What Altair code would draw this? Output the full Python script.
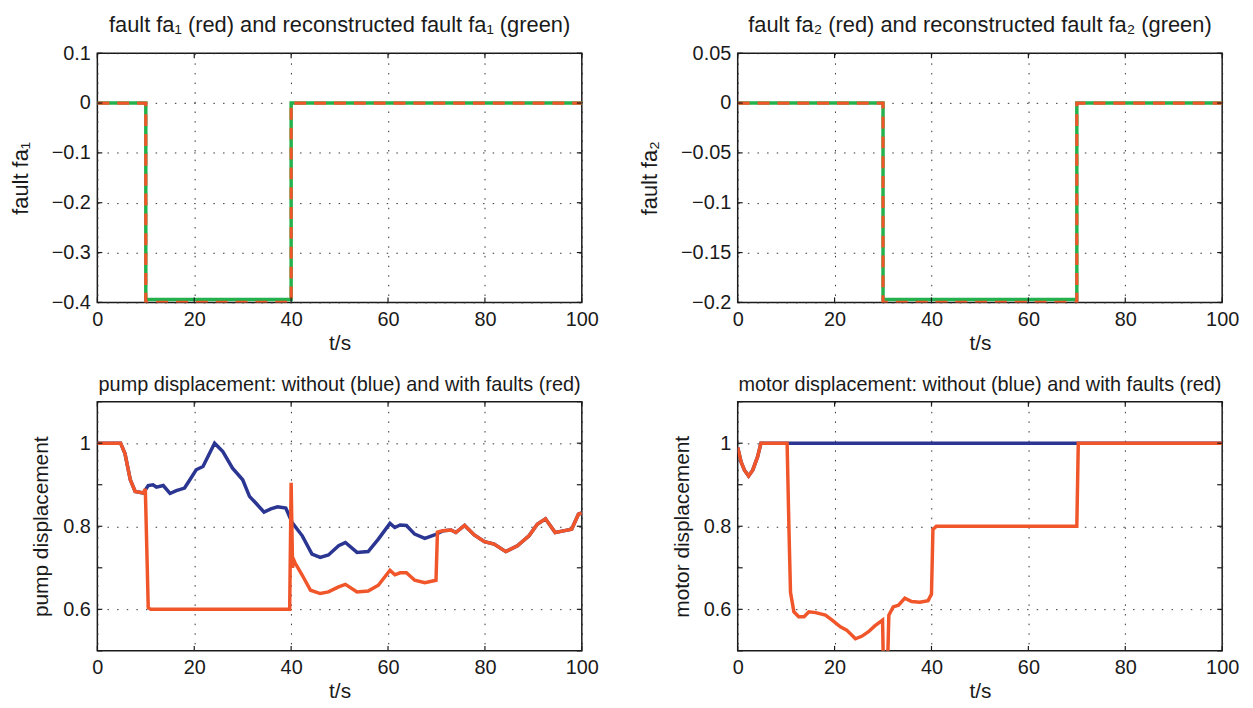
import altair as alt
import pandas as pd

# ---------------- data ----------------
fa1_t = [0, 10, 10, 40, 40, 100]
fa1_true = [0, 0, -0.4, -0.4, 0, 0]
fa1_rec = [0, 0, -0.394, -0.394, 0, 0]

fa2_t = [0, 30, 30, 70, 70, 100]
fa2_true = [0, 0, -0.2, -0.2, 0, 0]
fa2_rec = [0, 0, -0.197, -0.197, 0, 0]

pump_nom_t = [0, 4.8, 5.7, 6.8, 7.8, 9.5, 10.5, 11.5, 12.2, 13.6, 15.0, 16.3, 18.0, 19.1,
              20.4, 21.8, 24.2, 25.9, 27.9, 30.0, 31.4, 32.7, 34.4, 35.8, 37.2, 38.9, 40.2,
              42.3, 44.3, 46.0, 47.7, 49.8, 51.2, 53.6, 55.9, 58.0, 60.4, 61.4, 62.5, 63.8,
              65.5, 67.6, 69.6, 71.3, 73.0, 74.0, 75.8, 77.8, 79.9, 81.9, 84.3, 86.7, 89.1,
              90.8, 92.5, 94.5, 96.2, 97.9, 99.3, 100]
pump_nom = [1.0, 1.0, 0.975, 0.912, 0.884, 0.88, 0.898, 0.9, 0.894, 0.898, 0.879, 0.886, 0.892, 0.912,
            0.936, 0.944, 1.0, 0.98, 0.94, 0.912, 0.872, 0.856, 0.834, 0.842, 0.847, 0.844, 0.809,
            0.777, 0.733, 0.725, 0.731, 0.753, 0.761, 0.737, 0.739, 0.769, 0.807, 0.797, 0.803, 0.802,
            0.781, 0.771, 0.779, 0.789, 0.791, 0.785, 0.802, 0.779, 0.763, 0.757, 0.739, 0.753, 0.777,
            0.805, 0.818, 0.785, 0.789, 0.793, 0.829, 0.832]

pump_flt_t = [0, 4.8, 5.7, 6.8, 7.8, 9.5, 9.9, 10.2, 10.5, 11.0, 39.7, 40.0, 40.3, 40.5, 40.8,
              42.3, 44.0, 46.0, 47.7, 49.8, 51.2, 53.6, 55.9, 58.0, 60.4, 61.4, 62.5, 63.8,
              65.5, 67.6, 69.9, 70.2, 71.3, 73.0, 74.0, 75.8, 77.8, 79.9, 81.9, 84.3, 86.7,
              89.1, 90.8, 92.5, 94.5, 96.2, 97.9, 99.3, 100]
pump_flt = [1.0, 1.0, 0.975, 0.912, 0.884, 0.88, 0.89, 0.75, 0.604, 0.6, 0.6, 0.905, 0.70, 0.72, 0.712,
            0.682, 0.646, 0.638, 0.642, 0.654, 0.66, 0.642, 0.644, 0.658, 0.694, 0.683, 0.688, 0.688,
            0.670, 0.664, 0.670, 0.786, 0.789, 0.791, 0.785, 0.802, 0.779, 0.763, 0.757, 0.739, 0.753,
            0.777, 0.805, 0.818, 0.785, 0.789, 0.793, 0.829, 0.832]

motor_nom_t = [0, 0.7, 1.4, 2.25, 3.1, 4.1, 4.8, 100]
motor_nom = [0.99, 0.955, 0.935, 0.921, 0.935, 0.967, 1.0, 1.0]

motor_flt_t = [0, 0.7, 1.4, 2.25, 3.1, 4.1, 4.8, 10.2, 10.6, 10.9, 11.6, 12.6, 13.7, 14.7, 16.1,
               18.1, 19.5, 21.2, 22.5, 24.3, 25.6, 27.0, 28.3, 29.9, 30.1, 30.9, 31.2, 32.1, 33.2,
               34.5, 35.9, 37.6, 39.3, 40.0, 40.3, 41.0, 70.0, 70.3, 100]
motor_flt = [0.99, 0.955, 0.935, 0.921, 0.935, 0.967, 1.0, 1.0, 0.784, 0.641, 0.594, 0.582, 0.582, 0.594, 0.592,
             0.586, 0.574, 0.558, 0.55, 0.529, 0.535, 0.546, 0.56, 0.574, 0.45, 0.45, 0.586, 0.606, 0.61,
             0.627, 0.619, 0.617, 0.621, 0.637, 0.792, 0.8, 0.8, 1.0, 1.0]

x_ticks = [0, 20, 40, 60, 80, 100]
fa1_ticks = [0.1, 0, -0.1, -0.2, -0.3, -0.4]
fa2_ticks = [0.05, 0, -0.05, -0.1, -0.15, -0.2]
disp_ticks = [0.5, 0.6, 0.7, 0.8, 0.9, 1.0, 1.1]
disp_labels = [0.6, 0.8, 1]

RED = "#f0562a"
GREEN = "#22b14c"
BLUE = "#2b3592"
INK = "#1a1a1a"
FONT = "Liberation Sans"
FS = 20
W, H = 488, 251


def series_df(t, v):
    return pd.DataFrame({"t": t, "v": v, "i": list(range(len(t)))})


def panel(title, ytitle, ydomain, ytick_vals, ylabel_vals, series, ytitle_pad, tfs, toff, ytfs):
    xscale = alt.Scale(domain=[0, 100], nice=False, zero=False)
    yscale = alt.Scale(domain=ydomain, nice=False, zero=False)
    xaxis = alt.Axis(values=x_ticks, title="t/s", grid=True, gridDash=[1.5, 8.2], gridColor="#333",
                     gridWidth=1, domain=False, ticks=False, tickSize=0, labelPadding=7,
                     labelFlush=False, labelFontSize=FS, labelColor=INK, labelFont=FONT,
                     titleFontSize=21, titleFont=FONT, titleFontWeight="normal", titleColor=INK,
                     titlePadding=3)
    yaxis = alt.Axis(values=ylabel_vals, format="~g", title=ytitle, grid=True, gridDash=[1.5, 8.2],
                     gridColor="#333", gridWidth=1, domain=False, ticks=False, tickSize=0,
                     labelPadding=7, labelFontSize=FS, labelColor=INK, labelFont=FONT,
                     titleFontSize=ytfs, titleFont=FONT, titleFontWeight="normal", titleColor=INK,
                     titlePadding=ytitle_pad)
    X = lambda f: alt.X(f, scale=xscale, axis=xaxis)
    Y = lambda f: alt.Y(f, scale=yscale, axis=yaxis)
    layers = []
    for (t, v, color, width, dash) in series:
        mk = dict(color=color, strokeWidth=width, clip=True)
        if dash:
            mk["strokeDash"] = dash
        layers.append(
            alt.Chart(series_df(t, v)).mark_line(**mk).encode(
                x=X("t:Q"), y=Y("v:Q"), order="i:Q",
            )
        )
    xt = pd.DataFrame({"t": x_ticks})
    yt = pd.DataFrame({"v": ytick_vals})
    rule = dict(color=INK, strokeWidth=1.2)
    layers.append(alt.Chart(xt).mark_rule(**rule).encode(
        x=X("t:Q"), y=alt.value(0), y2=alt.value(5)))
    layers.append(alt.Chart(xt).mark_rule(**rule).encode(
        x=X("t:Q"), y=alt.value(H), y2=alt.value(H - 5)))
    layers.append(alt.Chart(yt).mark_rule(**rule).encode(
        y=Y("v:Q"), x=alt.value(0), x2=alt.value(5)))
    layers.append(alt.Chart(yt).mark_rule(**rule).encode(
        y=Y("v:Q"), x=alt.value(W), x2=alt.value(W - 5)))
    return alt.layer(*layers).properties(
        width=W, height=H,
        title=alt.TitleParams(title, fontSize=tfs, font=FONT, fontWeight="normal", color=INK,
                              anchor="middle", offset=toff),
    )


tl = panel("fault fa\u2081 (red) and reconstructed fault fa\u2081 (green)", "fault fa\u2081",
           [-0.4, 0.1], fa1_ticks, fa1_ticks,
           [(fa1_t, fa1_rec, GREEN, 3.5, None), (fa1_t, fa1_true, RED, 3.2, [12, 8])], 19, 22, 6, 22)
tr = panel("fault fa\u2082 (red) and reconstructed fault fa\u2082 (green)", "fault fa\u2082",
           [-0.2, 0.05], fa2_ticks, fa2_ticks,
           [(fa2_t, fa2_rec, GREEN, 3.5, None), (fa2_t, fa2_true, RED, 3.2, [12, 8])], 19, 22, 6, 22)
bl = panel("pump displacement: without (blue) and with faults (red)", "pump displacement",
           [0.5, 1.1], disp_ticks, disp_labels,
           [(pump_nom_t, pump_nom, BLUE, 3.5, None), (pump_flt_t, pump_flt, RED, 3.5, None)], 11, 20, 6, 21)
br = panel("motor displacement: without (blue) and with faults (red)", "motor displacement",
           [0.5, 1.1], disp_ticks, disp_labels,
           [(motor_nom_t, motor_nom, BLUE, 3.5, None), (motor_flt_t, motor_flt, RED, 3.5, None)], 11, 20, 6, 21)

chart = alt.concat(tl, tr, bl, br, columns=2, spacing={"row": 100, "column": 157}, bounds="flush").properties(
    padding={"left": 0, "top": 3, "right": 5, "bottom": 0}
).configure(font=FONT).configure_view(stroke=INK, strokeWidth=1.5)

chart.save("out.html", embed_options={"renderer": "svg", "actions": False})
